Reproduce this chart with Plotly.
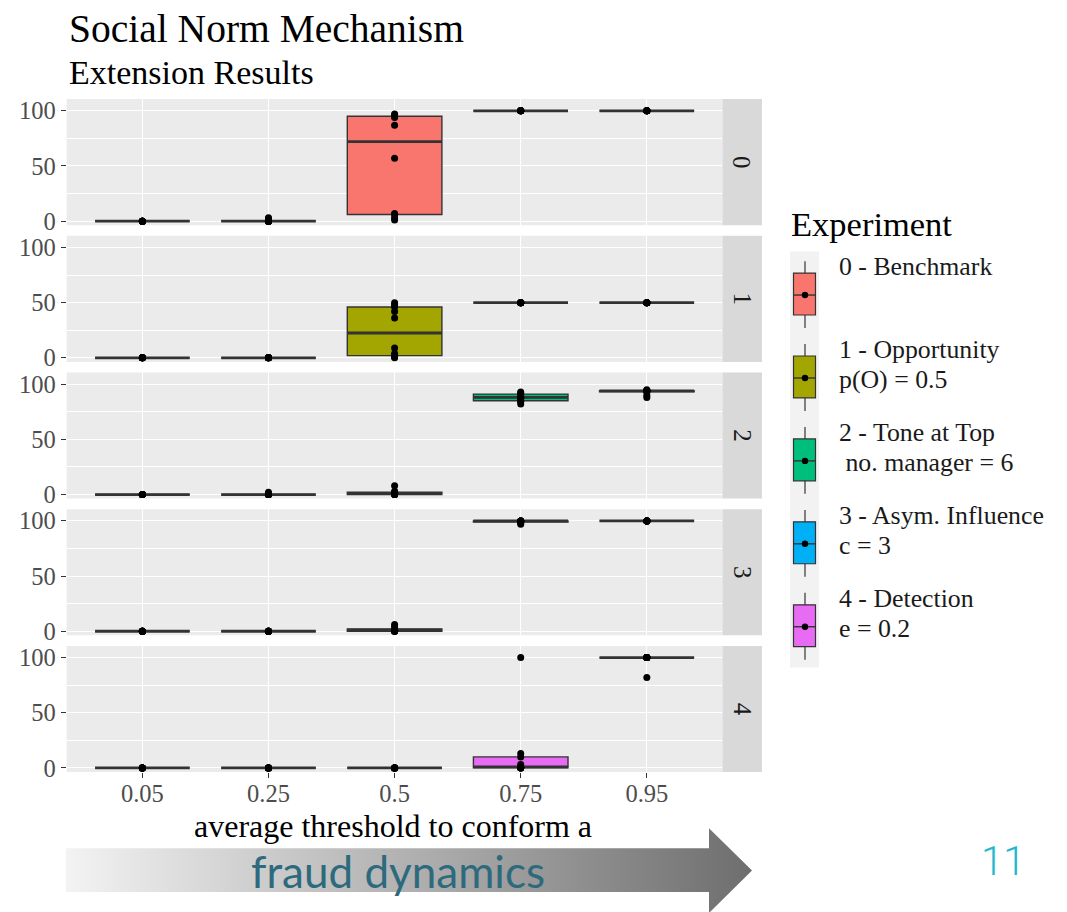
import numpy as np
import plotly.graph_objects as go

# ---------------- data ----------------
THRESHOLDS = ["0.05", "0.25", "0.5", "0.75", "0.95"]
FACETS = ["0", "1", "2", "3", "4"]
LEGEND_LABELS = [
    ["0 - Benchmark"],
    ["1 - Opportunity", "p(O) = 0.5"],
    ["2 - Tone at Top", "\u00a0no. manager = 6"],
    ["3 - Asym. Influence", "c = 3"],
    ["4 - Detection", "e = 0.2"],
]
COLORS = ["#F8766D", "#A3A500", "#00BF7D", "#00B0F6", "#E76BF3"]

# % of agents committing fraud, 10 runs per threshold
BENCHMARK = [
    [0, 0, 0, 0, 0, 0, 0, 0, 0, 0],
    [0, 0, 0, 0, 0, 0, 0, 0, 2, 3],
    [1, 3, 6, 7, 57, 87, 94, 95, 96, 97],
    [100, 100, 100, 100, 100, 100, 100, 100, 100, 100],
    [100, 100, 100, 100, 100, 100, 100, 100, 100, 100],
]
OPPORTUNITY = [
    [0, 0, 0, 0, 0, 0, 0, 0, 0, 0],
    [0, 0, 0, 0, 0, 0, 0, 0, 0, 0],
    [0, 1, 2, 4, 9, 36, 42, 46, 48, 50],
    [50, 50, 50, 50, 50, 50, 50, 50, 50, 50],
    [50, 50, 50, 50, 50, 50, 50, 50, 50, 50],
]
TONE_AT_TOP = [
    [0, 0, 0, 0, 0, 0, 0, 0, 0, 0],
    [0, 0, 0, 0, 0, 0, 0, 0, 1, 2],
    [0, 0, 0, 0, 1, 1, 1, 2, 3, 8],
    [82, 84, 85, 87, 88, 88, 89, 91, 92, 93],
    [88, 90, 93, 94, 94, 94, 94, 94, 94, 95],
]
ASYM_INFLUENCE = [
    [0, 0, 0, 0, 0, 0, 0, 0, 0, 0],
    [0, 0, 0, 0, 0, 0, 0, 0, 0, 0],
    [0, 0, 0, 0, 1, 1, 1, 2, 4, 6],
    [97, 98, 99, 99, 100, 100, 100, 100, 100, 100],
    [100, 100, 100, 100, 100, 100, 100, 100, 100, 100],
]
DETECTION = [
    [0, 0, 0, 0, 0, 0, 0, 0, 0, 0],
    [0, 0, 0, 0, 0, 0, 0, 0, 0, 0],
    [0, 0, 0, 0, 0, 0, 0, 0, 0, 0],
    [0, 0, 0, 0, 1, 1, 3, 10, 13, 100],
    [82, 100, 100, 100, 100, 100, 100, 100, 100, 100],
]
EXPERIMENTS = [BENCHMARK, OPPORTUNITY, TONE_AT_TOP, ASYM_INFLUENCE, DETECTION]

# ---------------- layout constants ----------------
W = 1067          # figure width (px)
H_FIG = 921       # figure height requested
H = 912           # design coordinate height (reference pixels)
PANEL_LEFT, PANEL_RIGHT = 66.7, 722.5
STRIP_RIGHT = 762
PANEL_TOP0, PANEL_H, PANEL_STEP = 97.3, 126.4, 137
BOX_W = 0.75
SERIF = "Liberation Serif"

fig = go.Figure()
layout = {}
shapes = []
annotations = []

for i, exp in enumerate(EXPERIMENTS):
    n = "" if i == 0 else str(i + 1)
    xs, ys = [], []
    mx, my = [], []
    for j, vals in enumerate(exp):
        xs += [j] * len(vals)
        ys += vals
        med = float(np.median(vals))
        mx += [j - BOX_W / 2, j + BOX_W / 2, None]
        my += [med, med, None]
    # box (outline, whiskers); its own points hidden, drawn on top below
    fig.add_trace(go.Box(
        x=xs, y=ys, xaxis="x" + n, yaxis="y" + n,
        boxpoints="all", jitter=0, pointpos=0, width=BOX_W, whiskerwidth=0,
        fillcolor=COLORS[i], line=dict(color="#333333", width=1.4),
        marker=dict(color="rgba(0,0,0,0)", size=1),
        showlegend=False, hoverinfo="skip",
    ))
    # thick median (ggplot fatten)
    fig.add_trace(go.Scatter(
        x=mx, y=my, xaxis="x" + n, yaxis="y" + n, mode="lines",
        line=dict(color="#333333", width=2.8), showlegend=False, hoverinfo="skip",
    ))
    # observations
    fig.add_trace(go.Scatter(
        x=xs, y=ys, xaxis="x" + n, yaxis="y" + n, mode="markers",
        marker=dict(color="black", size=7), showlegend=False, hoverinfo="skip",
    ))
    top = PANEL_TOP0 + i * PANEL_STEP
    bot = top + PANEL_H
    last = i == 4
    layout["xaxis" + n] = dict(
        domain=[PANEL_LEFT / W, PANEL_RIGHT / W], range=[-0.6, 4.6], anchor="y" + n,
        tickvals=list(range(5)), ticktext=THRESHOLDS, showticklabels=last,
        ticks="outside" if last else "", ticklen=5, tickwidth=1.2, tickcolor="#333333",
        ticklabelstandoff=-5,
        tickfont=dict(family=SERIF, size=24.5, color="#4D4D4D"),
        showgrid=True, gridcolor="white", gridwidth=1.3, zeroline=False, showline=False,
    )
    layout["yaxis" + n] = dict(
        domain=[1 - bot / H, 1 - top / H], range=[-3.7, 110.6], anchor="x" + n,
        tickvals=[0, 50, 100], ticks="outside", ticklen=5, tickwidth=1.2, tickcolor="#333333",
        tickfont=dict(family=SERIF, size=24.5, color="#4D4D4D"),
        showgrid=True, gridcolor="white", gridwidth=1.3, zeroline=False, showline=False,
        minor=dict(tickvals=[25, 75], showgrid=True, gridcolor="white", gridwidth=0.6, ticks=""),
    )
    # panel background
    shapes.append(dict(type="rect", xref="x" + n + " domain", yref="y" + n + " domain",
                       x0=0, x1=1, y0=0, y1=1, fillcolor="#EBEBEB", line=dict(width=0), layer="below"))
    # facet strip
    shapes.append(dict(type="rect", xref="x6", yref="y6", x0=PANEL_RIGHT, x1=STRIP_RIGHT,
                       y0=top, y1=bot, fillcolor="#D9D9D9", line=dict(width=0), layer="above"))
    annotations.append(dict(xref="x6", yref="y6", x=(PANEL_RIGHT + STRIP_RIGHT) / 2, y=(top + bot) / 2,
                            text=FACETS[i], textangle=90, showarrow=False,
                            font=dict(family=SERIF, size=25, color="#1A1A1A")))

# full-figure axis in reference-pixel units for decorations
layout["xaxis6"] = dict(domain=[0, 1], range=[0, W], anchor="y6", visible=False, fixedrange=True)
layout["yaxis6"] = dict(domain=[0, 1], range=[H, 0], anchor="x6", visible=False, fixedrange=True)

# arrow with gradient
ARROW_X = [66, 709, 709, 752, 709, 709, 66, 66]
ARROW_Y = [848, 848, 828, 870.5, 913, 892, 892, 848]
fig.add_trace(go.Scatter(
    x=ARROW_X, y=ARROW_Y, xaxis="x6", yaxis="y6", mode="lines", line=dict(width=0, color="rgba(0,0,0,0)"),
    fill="toself", fillgradient=dict(type="horizontal", colorscale=[[0, "#F3F3F3"], [1, "#6E6E6E"]]),
    hoverinfo="skip", showlegend=False,
))

# legend
KEY_X0, KEY_X1, KEY_XC = 790, 819, 805
shapes.append(dict(type="rect", xref="x6", yref="y6", x0=KEY_X0, x1=KEY_X1, y0=250, y1=667,
                   fillcolor="#F2F2F2", line=dict(width=0), layer="above"))
for i in range(5):
    c = 293.7 + 83.1 * i
    shapes.append(dict(type="line", xref="x6", yref="y6", x0=KEY_XC, x1=KEY_XC, y0=c - 34, y1=c + 33,
                       line=dict(color="#333333", width=1.2), layer="above"))
    shapes.append(dict(type="rect", xref="x6", yref="y6", x0=793.5, x1=815.5, y0=c - 22, y1=c + 20,
                       fillcolor=COLORS[i], line=dict(color="#333333", width=1.2), layer="above"))
    shapes.append(dict(type="line", xref="x6", yref="y6", x0=793.5, x1=815.5, y0=c, y1=c,
                       line=dict(color="#333333", width=1.4), layer="above"))
    shapes.append(dict(type="circle", xref="x6", yref="y6", x0=KEY_XC - 3.2, x1=KEY_XC + 3.2,
                       y0=c - 3.2, y1=c + 3.2, fillcolor="black", line=dict(width=0), layer="above"))
    for k, line in enumerate(LEGEND_LABELS[i]):
        annotations.append(dict(xref="x6", yref="y6", x=837, y=c - 28.5 + 30 * k, xanchor="left",
                                yanchor="middle", text=line, showarrow=False,
                                font=dict(family=SERIF, size=25.8, color="#1A1A1A")))

annotations += [
    dict(xref="x6", yref="y6", x=67, y=27, xanchor="left", yanchor="middle",
         text="Social Norm Mechanism", showarrow=False, font=dict(family=SERIF, size=39.5, color="black")),
    dict(xref="x6", yref="y6", x=67, y=71, xanchor="left", yanchor="middle",
         text="Extension Results", showarrow=False, font=dict(family=SERIF, size=34, color="black")),
    dict(xref="x6", yref="y6", x=789, y=222, xanchor="left", yanchor="middle",
         text="Experiment", showarrow=False, font=dict(family=SERIF, size=34.5, color="black")),
    dict(xref="x6", yref="y6", x=393, y=826, xanchor="center", yanchor="middle",
         text="average threshold to conform a", showarrow=False,
         font=dict(family=SERIF, size=32, color="black")),
    dict(xref="x6", yref="y6", x=398, y=871, xanchor="center", yanchor="middle",
         text="fraud dynamics", showarrow=False, font=dict(family="Lato", size=44, color="#2D6A7D")),
    dict(xref="x6", yref="y6", x=1003, y=861, xanchor="center", yanchor="middle",
         text="11", showarrow=False, font=dict(family="Roboto", size=40, color="#1EB8CF", weight=300)),
]

fig.update_layout(
    width=W, height=H_FIG, margin=dict(l=0, r=0, t=0, b=0),
    paper_bgcolor="white", plot_bgcolor="rgba(0,0,0,0)",
    showlegend=False, font=dict(family=SERIF),
    shapes=shapes, annotations=annotations, **layout,
)
fig.write_html("out.html")
